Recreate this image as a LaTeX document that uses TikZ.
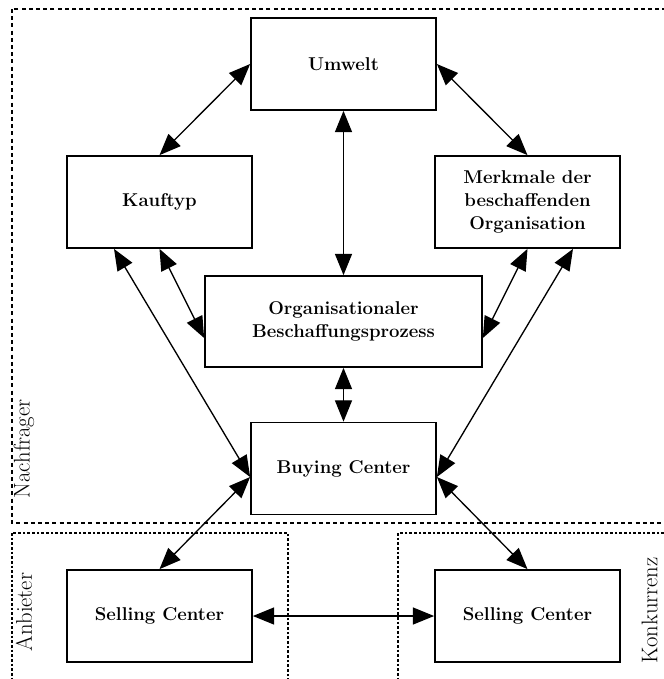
\documentclass[tikz,border=0pt]{standalone}
\usepackage{fontspec}
\usetikzlibrary{arrows.meta,calc}
\begin{document}
\begin{tikzpicture}[x=0.75pt,y=-0.75pt,
  box/.style={draw, line width=1.3pt, minimum width=138.75pt, minimum height=69pt,
    inner sep=0pt, align=center, font=\fontsize{13.9}{17}\selectfont\bfseries},
  link/.style={line width=1pt,
    {Triangle[length=16pt,width=12.8pt]}-{Triangle[length=16pt,width=12.8pt]}},
  zone/.style={line width=1pt, dash pattern=on 3pt off 2.4pt},
  subzone/.style={line width=0.9pt, dash pattern=on 2pt off 1.5pt},
  zonelabel/.style={rotate=90, inner sep=0pt, font=\fontsize{17}{20}\selectfont}]

  \useasboundingbox (0,0) rectangle (664,679);
  \clip (0,0) rectangle (664,679);

  % groups: buyer side, supplier, competitor
  \draw[zone] (12,9) rectangle (700,523);
  \draw[subzone] (12,533) rectangle (288,700);
  \draw[subzone] (398,533) rectangle (700,700);

  \node[zonelabel] (lnach) at (24,449) {Nachfrager};
  \node[zonelabel] (lanb) at (24,612) {Anbieter};
  \node[zonelabel] (lkon) at (649.5,610.5) {Konkurrenz};

  % boxes
  \node[box] (um) at (343.5,64) {Umwelt};
  \node[box] (kt) at (159.5,202) {Kauftyp};
  \node[box] (mm) at (527.5,202) {Merkmale der\\beschaffenden\\Organisation};
  \node[box, minimum width=207.75pt, minimum height=68.25pt] (org) at (343.5,321.5)
    {Organisationaler\\Beschaffungsprozess};
  \node[box] (bc) at (343.5,468.5) {Buying Center};
  \node[box] (scl) at (159.5,616) {Selling Center};
  \node[box] (scr) at (527.5,616) {Selling Center};

  % links
  \draw[link] (kt.north) -- (um.west);
  \draw[link] (um.east) -- (mm.north);
  \draw[link] (um.south) -- (org.north);
  \draw[link] ($(kt.south)+(-45.5,0)$) -- ($(bc.west)+(0,8.5)$);
  \draw[link] (kt.south) -- ($(org.west)+(0,16.5)$);
  \draw[link] (mm.south) -- ($(org.east)+(0,16.5)$);
  \draw[link] ($(mm.south)+(45.5,0)$) -- ($(bc.east)+(0,8.5)$);
  \draw[link] (org.south) -- (bc.north);
  \draw[link] ($(bc.west)+(0,8.5)$) -- (scl.north);
  \draw[link] ($(bc.east)+(0,8.5)$) -- (scr.north);
  \draw[link] (scl.east) -- (scr.west);
\end{tikzpicture}
\end{document}
